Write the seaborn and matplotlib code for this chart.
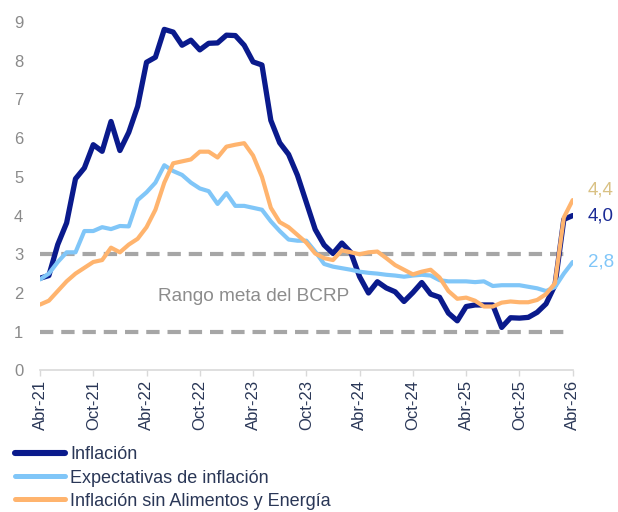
import matplotlib
matplotlib.use("Agg")
import matplotlib.pyplot as plt
import numpy as np
import pandas as pd
import seaborn as sns

# monthly data, Abr-21 .. Abr-26
inflacion = [2.38, 2.45, 3.25, 3.81, 4.95, 5.23, 5.83, 5.66, 6.43, 5.68,
             6.15, 6.82, 7.96, 8.09, 8.81, 8.74, 8.40, 8.53, 8.28, 8.45,
             8.46, 8.66, 8.65, 8.40, 7.97, 7.89, 6.46, 5.88, 5.58, 5.04,
             4.34, 3.64, 3.24, 3.02, 3.29, 3.05, 2.42, 2.00, 2.29, 2.13,
             2.03, 1.78, 2.01, 2.27, 1.97, 1.89, 1.48, 1.28, 1.65, 1.69,
             1.69, 1.69, 1.11, 1.36, 1.35, 1.37, 1.50, 1.72, 2.20, 3.90,
             4.00]
expectativas = [2.35, 2.50, 2.80, 3.05, 3.05, 3.60, 3.60, 3.70, 3.65, 3.73,
                3.72, 4.40, 4.60, 4.85, 5.30, 5.15, 5.05, 4.85, 4.70, 4.63,
                4.30, 4.58, 4.25, 4.25, 4.20, 4.15, 3.85, 3.60, 3.38, 3.35,
                3.35, 3.07, 2.75, 2.68, 2.64, 2.60, 2.55, 2.52, 2.50, 2.47,
                2.45, 2.42, 2.45, 2.47, 2.45, 2.33, 2.30, 2.30, 2.30, 2.28,
                2.30, 2.18, 2.20, 2.20, 2.20, 2.16, 2.12, 2.05, 2.15, 2.50,
                2.80]
subyacente = [1.70, 1.80, 2.05, 2.30, 2.50, 2.65, 2.80, 2.85, 3.17, 3.05,
              3.25, 3.40, 3.70, 4.15, 4.85, 5.35, 5.40, 5.45, 5.65, 5.65,
              5.50, 5.78, 5.83, 5.87, 5.55, 5.00, 4.20, 3.83, 3.70, 3.50,
              3.30, 3.02, 2.90, 2.85, 3.10, 3.05, 3.00, 3.05, 3.07, 2.90,
              2.72, 2.60, 2.48, 2.55, 2.60, 2.40, 2.05, 1.85, 1.88, 1.80,
              1.65, 1.65, 1.75, 1.78, 1.76, 1.76, 1.82, 1.97, 2.25, 3.95,
              4.40]
tick_labels = ["Abr-21", "Oct-21", "Abr-22", "Oct-22", "Abr-23", "Oct-23",
               "Abr-24", "Oct-24", "Abr-25", "Oct-25", "Abr-26"]
series_names = ["Inflación", "Expectativas de inflación",
                "Inflación sin Alimentos y Energía"]
end_labels = ["4,0", "2,8", "4,4"]
rango_meta = [1, 3]

colors = ["#0A1A8C", "#80C6F8", "#FFB46E"]
label_colors = ["#1A2A95", "#80C6F8", "#D9C184"]
widths = [3.8, 3.0, 3.0]

df = pd.DataFrame({"mes": np.arange(len(inflacion)),
                   series_names[0]: inflacion,
                   series_names[1]: expectativas,
                   series_names[2]: subyacente})

sns.set_style("white")
plt.rcParams["font.family"] = ["Liberation Sans", "DejaVu Sans"]

fig = plt.figure(figsize=(6.18, 5.12), dpi=100)
ax = fig.add_axes([0.0647, 0.2766, 0.862, 0.6804])

ax.hlines(rango_meta, 0, 59.6, colors="#A6A6A6", linewidth=3.0,
          linestyles=(0, (3.2, 1.9)), zorder=1)
ax.text(13.3, 1.92, "Rango meta del BCRP", color="#8C8C8C", fontsize=13.7,
        va="center", ha="left")

handles = []
for name, c, lw in zip(series_names, colors, widths):
    sns.lineplot(data=df, x="mes", y=name, color=c, linewidth=lw, ax=ax,
                 zorder=3, solid_capstyle="round", solid_joinstyle="round")
    handles.append(plt.Line2D([], [], color=c, linewidth=lw + 0.6,
                              solid_capstyle="round"))

ypos = [4.0, 2.8, 4.65]
for txt, col, yy in zip(end_labels, label_colors, ypos):
    ax.text(61.7, yy, txt, color=col, fontsize=13.5, va="center", ha="left",
            clip_on=False)

ax.set_xlim(0, 60)
ax.set_ylim(0, 9)
ax.set_xticks(np.arange(0, 61, 6))
ax.set_xticklabels(tick_labels, rotation=90, color="#2A3757", fontsize=12)
ax.set_yticks(range(10))
ax.tick_params(axis="y", length=0, pad=12, labelsize=12, labelcolor="#8A8A8A")
ax.tick_params(axis="x", length=4, width=1, color="#D9D9D9", pad=3,
               direction="out", bottom=True)
ax.set_xlabel("")
ax.set_ylabel("")
for s in ["left", "top", "right"]:
    ax.spines[s].set_visible(False)
ax.spines["bottom"].set_color("#D9D9D9")
ax.spines["bottom"].set_linewidth(1.2)
if ax.get_legend():
    ax.get_legend().remove()

fig.legend(handles, series_names, loc="upper left",
           bbox_to_anchor=(0.024, 0.128), frameon=False, fontsize=13,
           handlelength=2.8, handletextpad=0.28, labelspacing=0.34,
           borderpad=0, borderaxespad=0, labelcolor="#2A3757")

fig.savefig("out.png", dpi=100)
